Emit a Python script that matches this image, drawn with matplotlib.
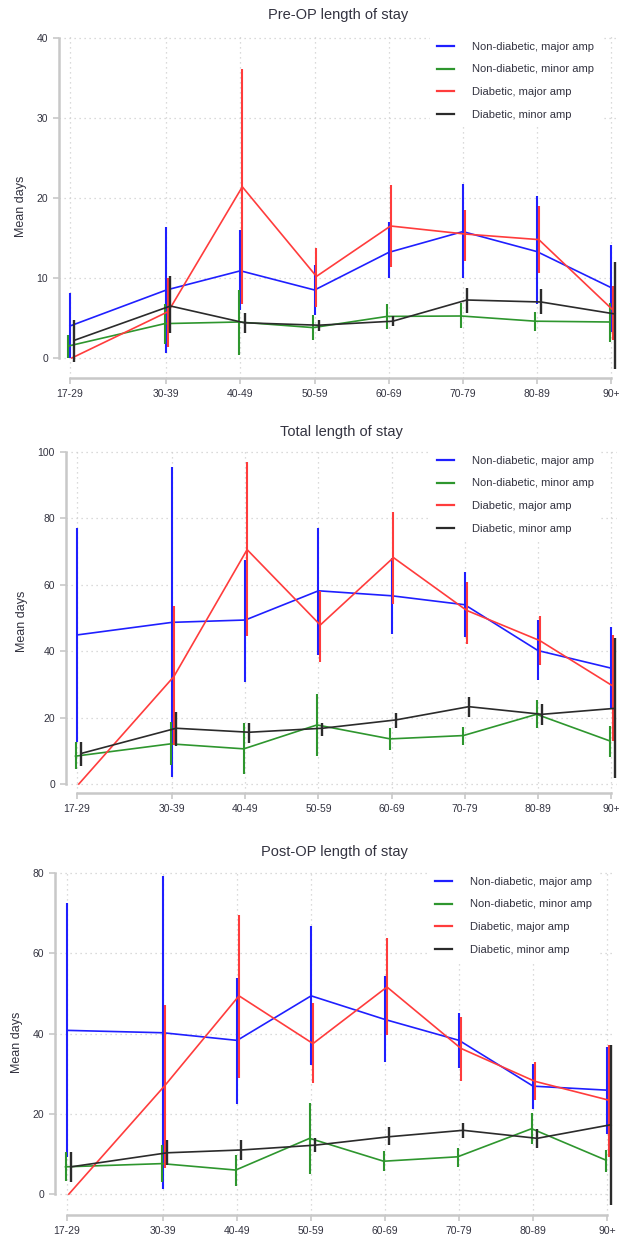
import matplotlib
matplotlib.use("Agg")
import matplotlib.pyplot as plt
from matplotlib.lines import Line2D

plt.rcParams['font.family'] = ['Liberation Sans', 'DejaVu Sans']

# age groups, plotted at the lower bound of each group
age_x = [17, 30, 40, 50, 60, 70, 80, 90]
age_labels = ['17-29', '30-39', '40-49', '50-59', '60-69', '70-79', '80-89', '90+']

series_names = ['Non-diabetic, major amp', 'Non-diabetic, minor amp',
                'Diabetic, major amp', 'Diabetic, minor amp']
series_colors = ['#1f1fff', '#2e962e', '#ff3c3c', '#2b2b2b']
x_shift = [0.0, -0.2, 0.25, 0.55]

# ---- Pre-OP length of stay ----
pre_nd_major = [4.0, 8.5, 10.9, 8.5, 13.2, 15.8, 13.3, 8.8]
pre_nd_major_lo = [0.0, 0.6, 6.0, 5.4, 10.0, 10.0, 6.8, 3.3]
pre_nd_major_hi = [8.1, 16.4, 16.0, 11.6, 17.0, 21.8, 20.2, 14.1]
pre_nd_minor = [1.5, 4.3, 4.5, 3.8, 5.2, 5.25, 4.6, 4.5]
pre_nd_minor_lo = [0.0, 1.8, 0.4, 2.25, 3.6, 3.7, 3.4, 2.0]
pre_nd_minor_hi = [2.9, 6.8, 8.5, 5.4, 6.75, 6.9, 5.8, 6.9]
pre_d_major = [0.0, 5.8, 21.4, 10.2, 16.5, 15.5, 14.8, 6.0]
pre_d_major_lo = [0.0, 1.4, 6.75, 6.4, 11.4, 12.1, 10.6, 2.25]
pre_d_major_hi = [0.0, 10.0, 36.1, 13.7, 21.6, 18.5, 19.0, 9.0]
pre_d_minor = [2.2, 6.5, 4.4, 4.1, 4.6, 7.25, 7.0, 5.5]
pre_d_minor_lo = [-0.5, 3.1, 3.1, 3.4, 4.0, 5.6, 5.5, -1.4]
pre_d_minor_hi = [4.7, 10.2, 5.6, 4.75, 5.2, 8.8, 8.6, 12.0]

# ---- Total length of stay ----
tot_nd_major = [44.9, 48.7, 49.4, 58.2, 56.7, 54.0, 40.2, 34.9]
tot_nd_major_lo = [12.8, 2.2, 30.6, 38.9, 45.1, 44.2, 31.4, 22.5]
tot_nd_major_hi = [77.1, 95.4, 67.5, 77.0, 68.0, 64.0, 49.4, 47.2]
tot_nd_minor = [8.4, 12.1, 10.6, 17.8, 13.6, 14.6, 21.0, 13.0]
tot_nd_minor_lo = [4.4, 5.7, 3.0, 8.4, 10.3, 11.8, 16.8, 8.2]
tot_nd_minor_hi = [12.8, 18.8, 18.3, 27.1, 16.8, 17.3, 25.3, 17.5]
tot_d_major = [0.0, 32.4, 70.6, 47.9, 68.2, 52.3, 43.2, 29.5]
tot_d_major_lo = [0.0, 11.8, 44.6, 36.7, 54.3, 42.1, 35.9, 13.1]
tot_d_major_hi = [0.0, 53.5, 97.0, 58.0, 82.0, 61.0, 50.5, 44.9]
tot_d_minor = [9.2, 16.8, 15.6, 16.8, 19.3, 23.3, 21.0, 22.8]
tot_d_minor_lo = [5.4, 11.5, 12.5, 14.5, 16.8, 20.3, 17.8, 1.7]
tot_d_minor_hi = [12.8, 21.8, 18.5, 18.3, 21.3, 26.3, 24.0, 43.9]

# ---- Post-OP length of stay ----
post_nd_major = [40.8, 40.2, 38.3, 49.4, 43.5, 38.3, 26.9, 25.9]
post_nd_major_lo = [9.3, 1.4, 22.4, 32.1, 32.9, 31.3, 21.3, 15.1]
post_nd_major_hi = [72.5, 79.2, 53.9, 66.7, 54.3, 45.1, 32.3, 36.7]
post_nd_minor = [6.8, 7.6, 6.0, 13.9, 8.2, 9.3, 16.3, 8.5]
post_nd_minor_lo = [3.2, 3.1, 2.1, 5.0, 5.7, 6.8, 12.6, 5.4]
post_nd_minor_hi = [10.5, 12.2, 9.7, 22.6, 10.7, 11.4, 20.1, 11.1]
post_d_major = [0.0, 27.1, 49.4, 37.5, 51.6, 36.3, 28.1, 23.4]
post_d_major_lo = [0.0, 6.4, 29.0, 27.6, 39.6, 28.1, 23.4, 9.3]
post_d_major_hi = [0.0, 47.2, 69.6, 47.5, 63.7, 44.1, 32.9, 37.1]
post_d_minor = [6.8, 10.3, 11.0, 12.2, 14.3, 15.9, 13.9, 17.3]
post_d_minor_lo = [3.1, 7.2, 8.6, 10.5, 12.2, 13.9, 11.4, -2.7]
post_d_minor_hi = [10.5, 13.4, 13.4, 13.9, 16.8, 17.6, 16.3, 37.1]

W, H = 619, 1238
fig = plt.figure(figsize=(W / 100, H / 100), dpi=100)

# pixel layout of each panel: left, right, top, bottom, xlim, ylim, yticks, title y, legend top
panels = [
    dict(title='Pre-OP length of stay',
         data=[(pre_nd_major, pre_nd_major_lo, pre_nd_major_hi),
               (pre_nd_minor, pre_nd_minor_lo, pre_nd_minor_hi),
               (pre_d_major, pre_d_major_lo, pre_d_major_hi),
               (pre_d_minor, pre_d_minor_lo, pre_d_minor_hi)],
         box=(59, 617, 34, 378), xlim=(15.52, 90.8), ylim=(-2.5, 40.5),
         yticks=[0, 10, 20, 30, 40], title_y=15, leg=(430, 35)),
    dict(title='Total length of stay',
         data=[(tot_nd_major, tot_nd_major_lo, tot_nd_major_hi),
               (tot_nd_minor, tot_nd_minor_lo, tot_nd_minor_hi),
               (tot_d_major, tot_d_major_lo, tot_d_major_hi),
               (tot_d_minor, tot_d_minor_lo, tot_d_minor_hi)],
         box=(66, 617, 448.7, 793), xlim=(15.5, 90.8), ylim=(-2.7, 101),
         yticks=[0, 20, 40, 60, 80, 100], title_y=432, leg=(430, 449)),
    dict(title='Post-OP length of stay',
         data=[(post_nd_major, post_nd_major_lo, post_nd_major_hi),
               (post_nd_minor, post_nd_minor_lo, post_nd_minor_hi),
               (post_d_major, post_d_major_lo, post_d_major_hi),
               (post_d_minor, post_d_minor_lo, post_d_minor_hi)],
         box=(55, 613, 869.8, 1215), xlim=(15.38, 90.8), ylim=(-5.2, 80.8),
         yticks=[0, 20, 40, 60, 80], title_y=852, leg=(428, 870)),
]

txt = '#333340'
axis_grey = '#c8c8c8'

for p in panels:
    l, r, t, b = p['box']
    ax = fig.add_axes([l / W, 1 - b / H, (r - l) / W, (b - t) / H])
    ax.set_xlim(*p['xlim'])
    ax.set_ylim(*p['ylim'])

    # dotted grid
    for yv in p['yticks']:
        ax.axhline(yv, color='#cfcfcf', lw=0.9, ls=(0, (1, 3)), zorder=0)
    for xv in age_x:
        ax.axvline(xv, color='#cfcfcf', lw=0.9, ls=(0, (1, 3)), zorder=0)

    for i, (m, lo, hi) in enumerate(p['data']):
        xs = [a + x_shift[i] for a in age_x]
        ax.plot(xs, m, color=series_colors[i], lw=1.2, zorder=3 + i)
        ax.vlines(xs, lo, hi, color=series_colors[i], lw=1.7 if i == 3 else 1.5,
                  zorder=3 + i)

    for s in ['top', 'right']:
        ax.spines[s].set_visible(False)
    ax.spines['left'].set_bounds(p['yticks'][0], p['yticks'][-1])
    ax.spines['bottom'].set_bounds(age_x[0], age_x[-1])
    for s in ['left', 'bottom']:
        ax.spines[s].set_color(axis_grey)
        ax.spines[s].set_linewidth(1.8)
    ax.set_xticks(age_x)
    ax.set_xticklabels(age_labels)
    ax.set_yticks(p['yticks'])
    ax.tick_params(axis='both', colors=axis_grey, labelcolor=txt, labelsize=7.5,
                   length=4, width=1.2, pad=4)
    ax.set_ylabel('Mean days', fontsize=9, color=txt, labelpad=7)
    ax.patch.set_alpha(0)

    fig.text(((l + r) / 2) / W, 1 - p['title_y'] / H, p['title'], ha='center', va='center',
             fontsize=10.5, color=txt)

    handles = [Line2D([], [], color=c, lw=1.6) for c in series_colors]
    lx, ly = p['leg']
    leg = ax.legend(handles, series_names, loc='upper left',
                    bbox_to_anchor=(lx / W, 1 - ly / H), bbox_transform=fig.transFigure,
                    fontsize=8, frameon=True, fancybox=False, framealpha=1,
                    facecolor='white', edgecolor='none', borderpad=0.6,
                    borderaxespad=0, handlelength=1.6, handletextpad=1.6,
                    labelspacing=1.15)
    leg.set_zorder(10)
    for tx in leg.get_texts():
        tx.set_color(txt)

fig.savefig('out.png', dpi=100)
